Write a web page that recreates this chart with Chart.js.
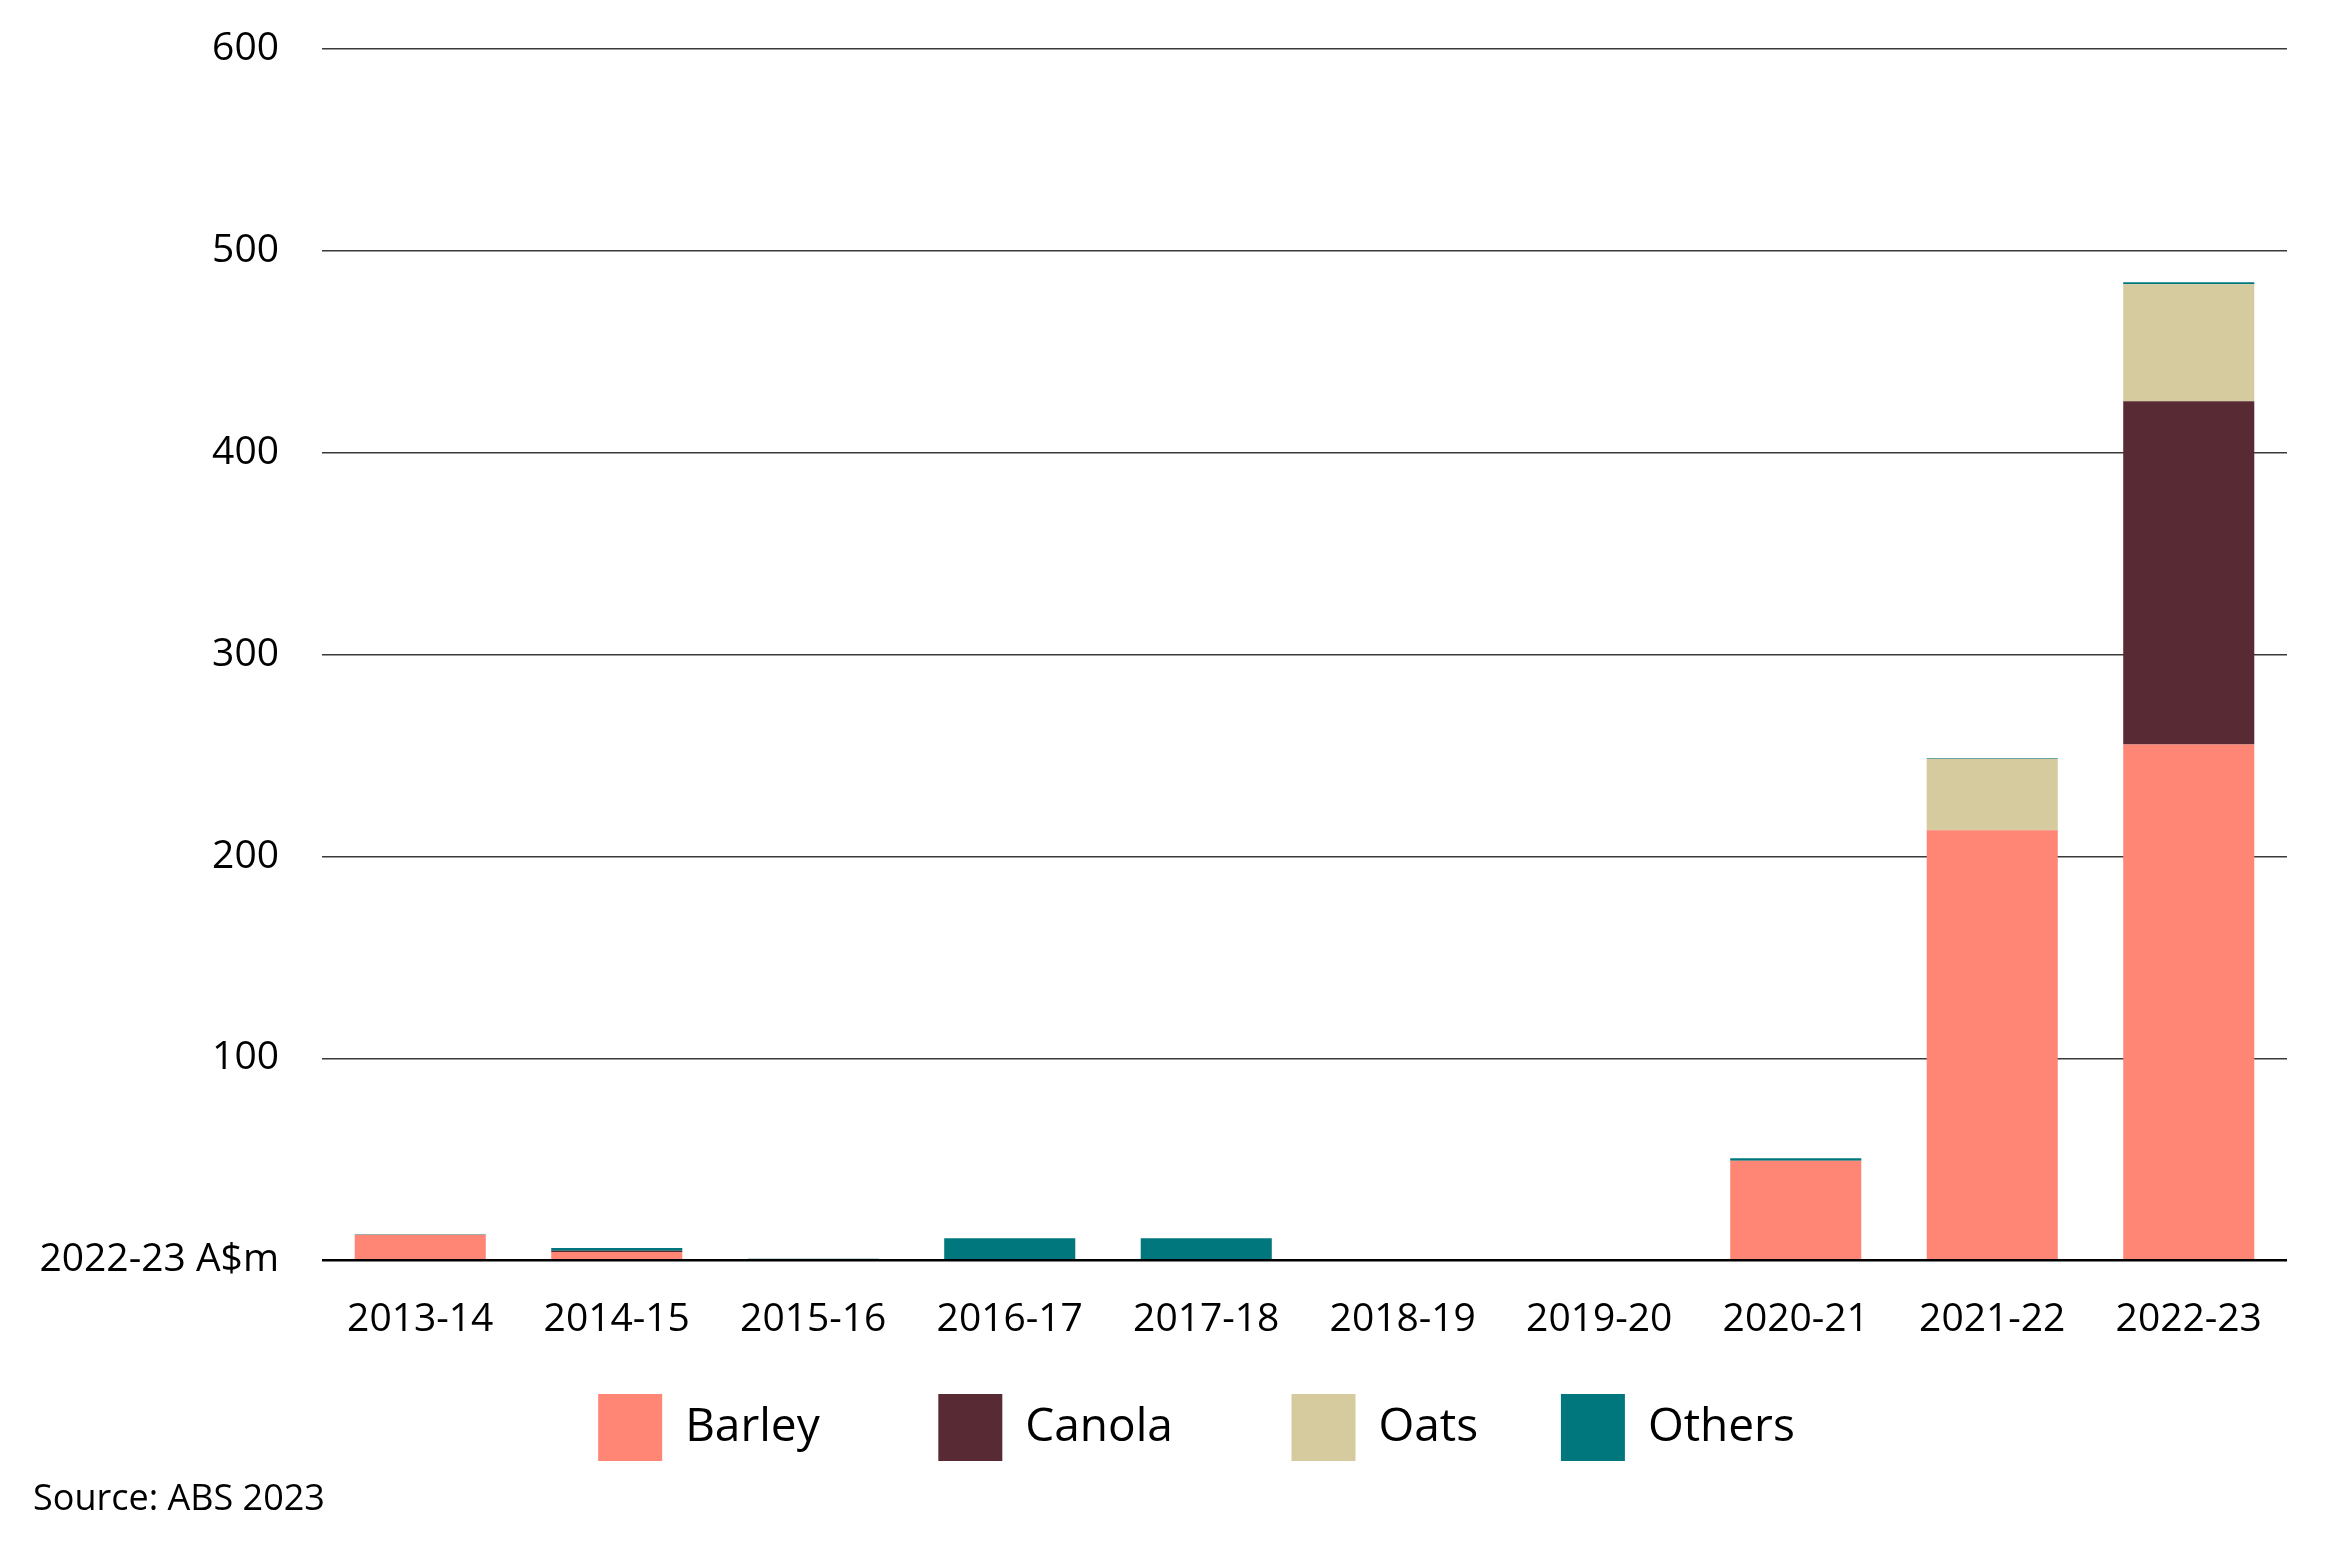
<!DOCTYPE html>
<html>
<head>
<meta charset="utf-8">
<script src="https://cdn.jsdelivr.net/npm/chart.js@4"></script>
<style>
  body { margin: 0; background: #fff; }
  #wrap { position: relative; width: 2338px; height: 1559px; }
  #source { position: absolute; left: 33px; top: 1472px; font: 36px "Open Sans", sans-serif; color: #000; }
</style>
</head>
<body>
<div id="wrap">
  <canvas id="chart"></canvas>
  <div id="source">Source: ABS 2023</div>
</div>
<script>
const years = ['2013-14', '2014-15', '2015-16', '2016-17', '2017-18', '2018-19', '2019-20', '2020-21', '2021-22', '2022-23'];
const barley = [12.6, 4.1, 0, 0, 0, 0, 0, 49.3, 213, 255.5];
const canola = [0, 0.6, 0, 0, 0, 0, 0, 0, 0, 170];
const oats = [0, 0, 0, 0, 0, 0, 0, 0, 35.4, 58];
const others = [0.3, 1.3, 0.7, 10.9, 10.9, 0, 0, 1.2, 0.4, 0.9];
const yTicks = [0, 100, 200, 300, 400, 500, 600];
const zeroLabel = '2022-23 A$m';

const font = '"Open Sans", sans-serif';
const legendGaps = [8, 8, 5, 0]; // trailing spaces after each legend label

// nudge the legend row a bit to the right, like the original
const legendShift = {
    id: 'legendShift',
    afterLayout(chart) {
        const lg = chart.legend;
        if (!lg) return;
        lg.left += 38;
        lg.right += 38;
    }
};

const ctx = document.getElementById('chart').getContext('2d');
new Chart(ctx, {
    type: 'bar',
    data: {
        labels: years,
        datasets: [
            { label: 'Barley', data: barley, backgroundColor: '#FF8674' },
            { label: 'Canola', data: canola, backgroundColor: '#582A33' },
            { label: 'Oats', data: oats, backgroundColor: '#D5CB9F' },
            { label: 'Others', data: others, backgroundColor: '#00777D' }
        ]
    },
    options: {
        responsive: true,
        maintainAspectRatio: false,
        animation: false,
        datasets: { bar: { categoryPercentage: 1, barPercentage: 0.667 } },
        layout: { padding: { left: 30, right: 51, top: 49, bottom: 88 } },
        plugins: {
            legend: {
                position: 'bottom',
                labels: {
                    font: { family: font, size: 46 },
                    color: '#000',
                    boxWidth: 64,
                    boxHeight: 67,
                    padding: 23,
                    generateLabels: chart => {
                        const items = Chart.defaults.plugins.legend.labels.generateLabels(chart);
                        items.forEach((it, i) => { it.text = it.text + ' '.repeat(legendGaps[i]); });
                        return items;
                    }
                }
            },
            tooltip: { enabled: false }
        },
        scales: {
            x: {
                stacked: true,
                grid: { display: false },
                border: { display: false },
                ticks: { font: { family: font, size: 39 }, color: '#000', padding: 28, maxRotation: 0 }
            },
            y: {
                stacked: true,
                min: 0,
                max: 600,
                afterFit: scale => {
                    scale.width = 292;
                    // tick padding is only meant sideways here
                    scale.paddingTop = 24;
                    scale.paddingBottom = 24;
                },
                afterBuildTicks: scale => { scale.ticks = yTicks.map(v => ({ value: v })); },
                border: { display: false },
                grid: {
                    drawTicks: false,
                    color: c => c.tick && c.tick.value === 0 ? '#000' : '#3a3a3a',
                    lineWidth: c => c.tick && c.tick.value === 0 ? 2.5 : 1.5
                },
                ticks: {
                    font: { family: font, size: 39 },
                    color: '#000',
                    padding: 43,
                    callback: v => v === 0 ? zeroLabel : v
                }
            }
        }
    },
    plugins: [legendShift]
});
</script>
</body>
</html>
